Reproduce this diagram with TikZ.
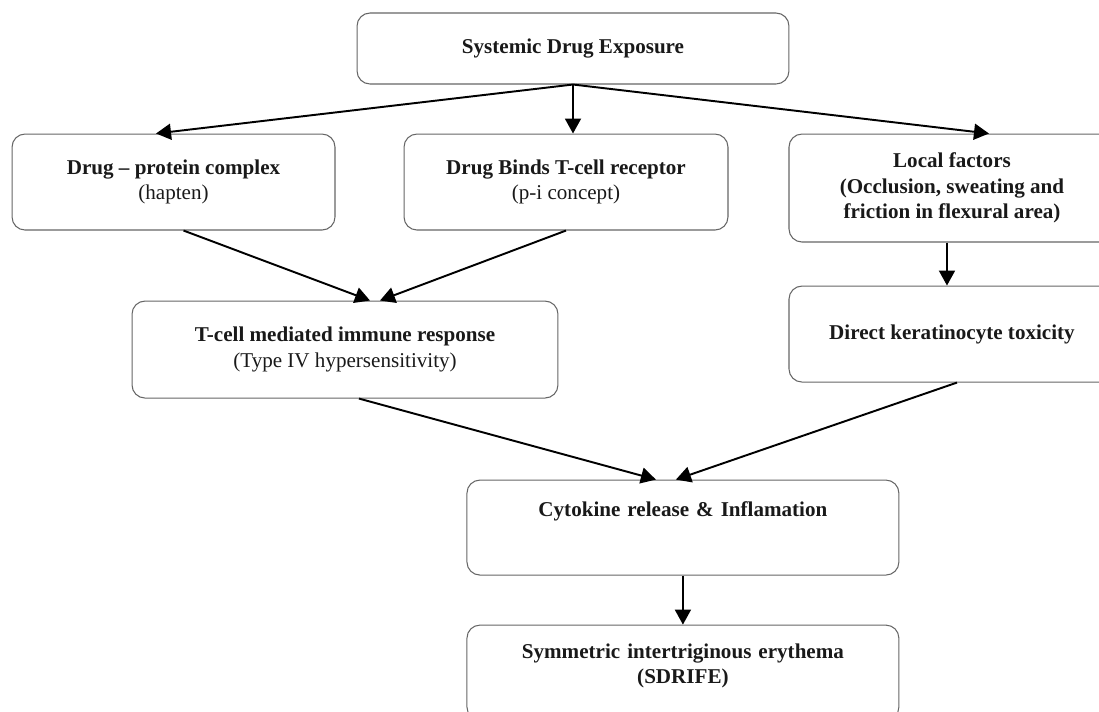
\documentclass[tikz,border=0pt]{standalone}
\usepackage{fontspec}
\setmainfont{Liberation Serif}
\usetikzlibrary{positioning, arrows.meta}

\tikzset{
  box/.style = {draw=black!60, line width=0.6pt, rounded corners=0.26cm, align=center,
                font=\fontsize{12}{14.5}\selectfont, text=black!90, inner sep=2pt},
  topbox/.style = {box, text width=8cm, inner xsep=0.32cm, inner ysep=0pt},
}

\begin{document}
\begin{tikzpicture}[x=0.02cm, y=-0.02cm, >={Triangle[length=0.3cm, width=0.32cm]}, line width=1.1pt]
            \useasboundingbox (0,0) rectangle (1099,711);

            \node[box, minimum width=8.64cm, minimum height=1.42cm] (sde) at (573,48.5) {\textbf{Systemic Drug Exposure}};
            \node[box, minimum width=6.48cm, minimum height=1.92cm] (dbt) [below=0.98cm of sde, xshift=-0.14cm] {\textbf{Drug Binds T-cell receptor}\\(p-i concept)};
            \node[box, minimum width=6.46cm, minimum height=1.92cm] (dpc) [left=1.36cm of dbt] {\textbf{Drug -- protein complex}\\(hapten)};
            \node[box, minimum width=6.52cm, minimum height=2.16cm] (lf) [below right=0cm and 1.2cm of dbt.north east] {\textbf{Local factors}\\\textbf{(Occlusion, sweating and}\\\textbf{friction in flexural area)}};
            \node[box, minimum width=6.52cm, minimum height=1.92cm] (dkt) [below=0.86cm of lf] {\textbf{Direct keratinocyte toxicity}};
            \node[box, minimum width=8.52cm, minimum height=1.94cm] (tcm) [below=1.4cm of dpc, xshift=3.43cm] {\textbf{T-cell mediated immune response}\\(Type IV hypersensitivity)};
            \node[topbox, text height=0.72cm, text depth=1.18cm] (crf) [below=1.62cm of tcm, xshift=6.76cm] {\textbf{Cytokine release \& Inflamation}};
            \node[topbox, text height=0.66cm, text depth=1.24cm] (sie) [below=0.98cm of crf] {\textbf{Symmetric intertriginous erythema}\\\textbf{(SDRIFE)}};

            \path[->]
              (sde.south) edge ([xshift=-0.35cm]dpc.north)
              (sde.south) edge (sde.south |- dbt.north)
              (sde.south) edge ([xshift=0.74cm]lf.north)
              ([xshift=0.2cm]dpc.south) edge ([xshift=0.5cm]tcm.north)
              (dbt.south) edge ([xshift=0.7cm]tcm.north)
              ([xshift=-0.1cm]lf.south) edge ([xshift=-0.1cm]dkt.north)
              ([xshift=0.28cm]tcm.south) edge ([xshift=-0.54cm]crf.north)
              ([xshift=0.1cm]dkt.south) edge ([xshift=-0.14cm]crf.north)
              (crf.south) edge (sie.north)
            ;
          \end{tikzpicture}
\end{document}
